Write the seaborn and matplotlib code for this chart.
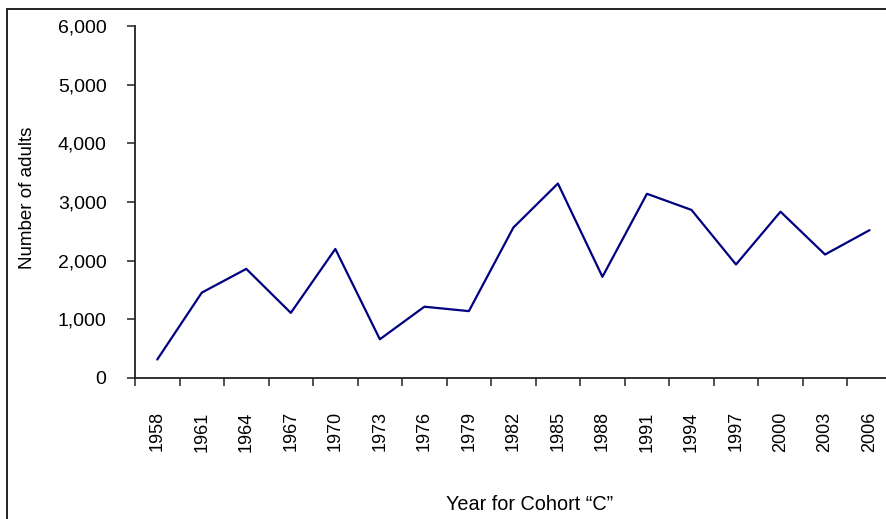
import numpy as np
import pandas as pd
import matplotlib
matplotlib.use("Agg")
import matplotlib.pyplot as plt
from matplotlib.lines import Line2D
from matplotlib.ticker import FixedLocator, FuncFormatter
import seaborn as sns

# Cohort "C" adult counts, one value every three years
years = ["1958", "1961", "1964", "1967", "1970", "1973", "1976", "1979", "1982",
         "1985", "1988", "1991", "1994", "1997", "2000", "2003", "2006"]
adults = [315, 1455, 1860, 1110, 2200, 660, 1215, 1140, 2565,
          3315, 1725, 3140, 2865, 1935, 2835, 2105, 2520]
y_ticks = [0, 1000, 2000, 3000, 4000, 5000, 6000]

sns.set_theme(style="white")
plt.rcParams["font.family"] = ["Liberation Sans", "DejaVu Sans"]

W, H = 886, 519
fig = plt.figure(figsize=(W / 100, H / 100), dpi=100)
ax = fig.add_axes([135 / W, 1 - 378 / H, (891.8 - 135) / W, (378 - 26) / H])

df = pd.DataFrame({"pos": np.arange(len(years)), "adults": adults})
sns.lineplot(data=df, x="pos", y="adults", ax=ax, color="#000080", linewidth=1.6)

ax.set_xlim(-0.5, len(years) - 0.5)
ax.set_ylim(0, 6000)

# category boundaries get tick marks, labels sit at category centres
ax.xaxis.set_major_locator(FixedLocator(np.arange(len(years) + 1) - 0.5))
ax.xaxis.set_major_formatter(FuncFormatter(lambda v, p: ""))
ax.xaxis.set_minor_locator(FixedLocator(np.arange(len(years))))
ax.xaxis.set_minor_formatter(FuncFormatter(lambda v, p: years[int(round(v))]))
ax.tick_params(axis="x", which="major", direction="out", length=6, width=1.1,
               color="#222222", bottom=True)
ax.tick_params(axis="x", which="minor", length=0, pad=24, labelsize=13,
               labelrotation=90, labelcolor="black", bottom=True)

ax.set_yticks(y_ticks)
ax.yaxis.set_major_formatter(FuncFormatter(lambda v, p: f"{int(v):,}"))
ax.tick_params(axis="y", direction="out", length=5.5, width=1.1, color="#222222",
               pad=15, labelsize=14, labelcolor="black", left=True)

for side in ("top", "right"):
    ax.spines[side].set_visible(False)
for side in ("left", "bottom"):
    ax.spines[side].set_color("#222222")
    ax.spines[side].set_linewidth(1.3)

ax.set_xlabel("")
ax.set_ylabel("")
fig.text(530 / W, 1 - 504 / H, "Year for Cohort \u201cC\u201d", ha="center", va="center",
         fontsize=14.3, color="black")
fig.text(28 / W, 1 - 198 / H, "Number of adults", ha="center", va="center",
         rotation=90, fontsize=13.5, color="black")

# outer chart frame (top and left edges visible)
fig.add_artist(Line2D([6.5 / W, 1.0], [1 - 9 / H, 1 - 9 / H], transform=fig.transFigure,
                      color="#222222", linewidth=1.4))
fig.add_artist(Line2D([6.5 / W, 6.5 / W], [1 - 9 / H, 0.0], transform=fig.transFigure,
                      color="#222222", linewidth=1.4))

fig.savefig("out.png", dpi=100)
